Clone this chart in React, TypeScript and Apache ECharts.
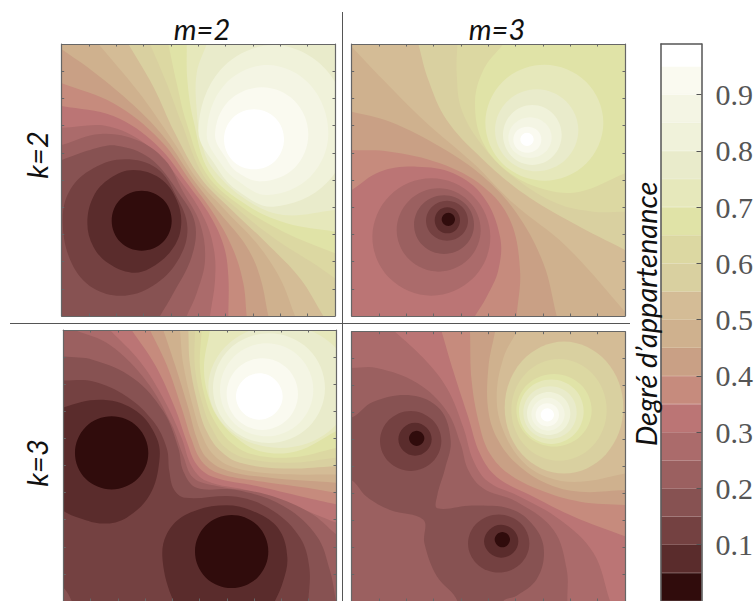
import React, { useEffect, useRef } from "react";
import * as echarts from "echarts";

// Colour of each 0.05 wide membership band, from 0-0.05 up to 0.95-1
const bandColors = [
  "#300c0c", "#5a2c2c", "#744141", "#875252", "#9b6060", "#ab6b6b", "#bb7575", "#c68b7d", "#c9a085", "#cfb18e",
  "#d4bc96", "#d9d0a0", "#dcd8a2", "#e0e3a7", "#e6e8bb", "#e9ebcb", "#f0f2da", "#f4f5e4", "#fafaf0", "#ffffff",
];
const bandWidths = [0.05, 0.05, 0.05, 0.05, 0.05, 0.05, 0.05, 0.05, 0.05, 0.05, 0.05, 0.05, 0.05, 0.05, 0.05, 0.05, 0.05, 0.05, 0.05, 0.04];
const barTicks = [0.1, 0.2, 0.3, 0.4, 0.5, 0.6, 0.7, 0.8, 0.9];
const baseBand = 9;

// Contours: [band, closing corners ([] = closed curve), x,y,x,y...]
type Contour = [number, string[], number[]];
const contoursA: Contour[] = [
  [8, ["BL"], [35,58,130,125,250,225,345,325,435,456,510,550,590,650,630,740,655,858]],
  [7, ["BL"], [35,160,190,220,330,330,427,462,497,560,550,660,580,760,590,858]],
  [6, ["BL"], [35,228,190,258,320,345,418,469,482,560,522,650,535,740,535,858]],
  [5, ["BL"], [35,293,180,290,310,360,408,476,465,570,492,660,495,750,480,858]],
  [4, ["BL"], [35,345,150,312,260,330,345,390,398,483,450,580,465,690,440,790,410,858]],
  [3, ["BL"], [35,390,120,360,200,347,300,385,388,491,435,580,425,680,370,790,330,858]],
  [2, [], [38,575,60,480,130,415,225,388,320,415,380,500,412,590,390,680,320,760,225,797,130,775,65,700]],
  [1, [], [112,580,130,500,180,445,250,420,330,445,380,510,393,590,365,660,300,715,245,728,175,700,130,650]],
  [0, [], [365,572,339,636,275,662,211,636,185,572,211,508,275,482,339,508]],
  [10, ["BR","TR"], [145,42,265,185,340,290,380,350,443,450,530,545,620,640,690,745,735,858]],
  [11, ["BR","TR"], [235,42,310,170,375,310,452,444,545,540,650,640,750,745,820,858]],
  [12, ["TR"], [300,42,350,160,395,280,461,438,560,535,680,630,790,700,855,745]],
  [13, ["TR"], [355,42,380,160,410,280,469,431,575,530,700,605,855,670]],
  [14, ["TR"], [410,42,412,150,430,270,478,425,590,525,710,580,855,605]],
  [15, ["TR"], [470,42,440,130,440,240,455,340,489,417,590,510,700,555,855,540]],
  [16, [], [895,300,829,460,670,530,560,480,499,410,445,300,511,120,670,45,829,120]],
  [17, [], [835,310,781,440,652,495,560,450,512,400,470,310,523,165,652,105,781,165]],
  [18, [], [775,313,734,413,635,454,560,425,528,385,495,313,536,213,635,172,734,213]],
  [19, [], [702,328,676,392,612,418,548,392,522,328,548,264,612,238,676,264]],
];
const contoursB: Contour[] = [
  [8, ["BL"], [35,245,150,275,300,350,430,440,530,550,610,700,650,858]],
  [7, ["BL"], [35,360,150,365,300,400,430,470,510,570,540,720,530,858]],
  [6, ["BL"], [35,480,120,425,230,410,340,430,430,500,480,620,475,720,440,800,405,858]],
  [5, [], [451,621,399,745,274,797,149,745,97,621,149,497,274,445,399,497]],
  [4, [], [422,600,385,688,296,725,207,688,170,600,207,512,296,475,385,512]],
  [3, [], [402,584,376,646,312,672,248,646,222,584,248,522,312,496,376,522]],
  [2, [], [384,572,366,614,321,632,276,614,258,572,276,530,321,512,366,530]],
  [1, [], [360,571,349,599,322,610,295,599,284,571,295,543,322,532,349,543]],
  [0, [], [345,568,339,582,325,588,311,582,305,568,311,554,325,548,339,554]],
  [10, ["TR"], [35,50,130,150,250,270,400,400,520,520,680,650,855,845]],
  [11, ["TR"], [235,42,265,150,320,270,420,380,550,490,700,580,855,660]],
  [12, ["TR"], [352,42,350,130,365,240,430,350,520,440,650,520,760,545,855,545]],
  [13, ["TR"], [490,42,430,120,405,220,430,340,510,430,620,480,720,485,855,430]],
  [14, [], [790,278,738,401,613,452,488,401,436,278,488,155,613,104,738,155]],
  [15, [], [715,301,678,388,590,424,502,388,465,301,502,214,590,178,678,214]],
  [16, [], [665,315,639,379,577,405,515,379,489,315,515,251,577,225,639,251]],
  [17, [], [635,323,616,366,570,384,524,366,505,323,524,280,570,262,616,280]],
  [18, [], [604,329,592,357,562,368,532,357,520,329,532,301,562,290,592,301]],
  [19, [], [581,328,575,342,561,348,547,342,541,328,547,314,561,308,575,314]],
];
const contoursC: Contour[] = [
  [8, ["BR","BL","TL"], [340,45,375,150,415,280,440,370,470,430,530,468,660,490,858,505]],
  [7, ["BR","BL","TL"], [300,45,350,150,395,280,425,375,455,440,510,478,640,502,770,520,858,535]],
  [6, ["BR","BL","TL"], [245,45,315,150,375,280,410,380,440,450,490,488,620,515,760,548,858,570]],
  [5, ["BR","BL","TL"], [180,45,270,140,345,260,395,370,425,455,470,500,600,530,740,578,858,625]],
  [4, ["BR","BL","TL"], [75,45,180,90,290,200,365,330,400,425,430,490,500,515,650,540,780,595,858,660]],
  [3, ["BL"], [40,125,130,135,250,190,340,290,385,400,400,470,440,520,560,527,700,575,800,665,840,770,858,861]],
  [2, [], [-40,197,40,197,130,200,230,245,310,320,350,400,358,470,372,525,405,550,560,547,670,590,750,670,778,760,775,861,770,930,120,930,40,820,-40,770]],
  [1, [], [40,278,160,255,260,290,320,370,328,440,300,540,230,610,160,628,90,612,40,590,-40,530,-50,400,-40,320]],
  [1, [], [338,740,350,660,410,600,530,573,630,600,690,650,712,730,700,800,670,870,630,930,420,930,370,860]],
  [0, [], [295,415,263,493,185,525,107,493,75,415,107,337,185,305,263,337]],
  [0, [], [655,712,623,790,545,822,467,790,435,712,467,634,545,602,623,634]],
  [10, ["TR"], [390,45,400,150,430,280,455,360,490,420,550,458,680,478,858,480]],
  [11, ["TR"], [415,45,420,150,445,275,470,350,510,408,570,445,700,462,858,455]],
  [12, ["TR"], [435,45,435,160,458,270,485,340,525,398,590,432,720,445,858,430]],
  [13, ["TR"], [455,45,450,160,470,265,500,330,545,385,610,420,730,428,858,400]],
  [14, ["TR"], [480,45,462,160,480,260,515,325,560,370,630,410,740,410,858,350]],
  [15, [], [905,215,842,346,690,400,538,346,475,215,538,84,690,30,842,84]],
  [16, [], [825,220,776,337,657,385,538,337,489,220,538,103,657,55,776,103]],
  [17, [], [790,225,749,324,650,365,551,324,510,225,551,126,650,85,749,126]],
  [18, [], [744,238,713,314,637,346,561,314,530,238,561,162,637,130,713,162]],
  [19, [], [698,245,677,294,628,315,579,294,558,245,579,196,628,175,677,196]],
];
const contoursD: Contour[] = [
  [8, ["BR","BL","TL"], [465,50,445,160,445,290,475,380,530,450,620,510,720,535,855,530]],
  [7, ["BR","BL","TL"], [390,50,395,200,420,340,450,420,505,480,600,530,720,565,855,575]],
  [6, ["BR","BL","TL"], [305,50,340,170,385,310,420,420,470,490,570,545,700,610,855,670]],
  [5, ["BL","TL"], [165,50,250,130,320,220,370,340,400,440,445,505,540,550,660,620,760,720,810,866]],
  [4, ["BL"], [35,160,110,160,230,205,320,290,362,390,385,470,430,525,530,565,640,650,680,770,682,866]],
  [3, [], [35,310,100,262,215,243,300,285,332,380,315,465,292,545,292,585,400,577,520,590,590,650,612,720,590,800,530,850,490,866,470,930,340,930,352,866,290,790,253,690,250,620,150,590,80,550,35,500,-30,480,-30,320]],
  [2, [], [304,381,277,445,212,472,147,445,120,381,147,317,212,290,277,317]],
  [2, [], [568,692,541,754,476,780,411,754,384,692,411,630,476,604,541,630]],
  [1, [], [275,376,260,411,225,426,190,411,175,376,190,341,225,326,260,341]],
  [1, [], [535,685,520,720,483,735,448,720,432,685,448,650,483,635,520,650]],
  [0, [], [253,373,246,389,230,396,214,389,207,373,214,357,230,350,246,357]],
  [0, [], [510,680,503,696,487,703,471,696,464,680,471,664,487,657,503,664]],
  [10, ["TR"], [530,50,490,130,470,250,490,350,545,440,620,490,720,505,855,480]],
  [11, [], [850,280,798,421,672,480,546,421,494,280,546,139,672,80,798,139]],
  [12, [], [800,287,758,396,657,441,556,396,514,287,556,178,657,133,758,178]],
  [13, [], [755,288,722,366,642,398,562,366,529,288,562,210,642,178,722,210]],
  [14, [], [731,292,703,361,634,390,565,361,537,292,565,223,634,195,703,223]],
  [15, [], [710,295,687,352,630,375,573,352,550,295,573,238,630,215,687,238]],
  [16, [], [691,298,672,344,626,363,580,344,561,298,580,252,626,233,672,252]],
  [17, [], [674,300,659,335,624,350,589,335,574,300,589,265,624,250,659,265]],
  [18, [], [657,302,647,327,622,337,597,327,587,302,597,277,622,267,647,277]],
  [19, [], [642,302,636,316,622,322,608,316,602,302,608,288,622,282,636,288]],
];

const panels = [
  { contours: contoursA, rect: [61.7, 44, 273.3, 272], x: [35, 855], y: [42, 858] },
  { contours: contoursB, rect: [351.7, 44, 273.3, 272], x: [35, 855], y: [42, 858] },
  { contours: contoursC, rect: [63.3, 330, 272.7, 272], x: [40, 858], y: [45, 861] },
  { contours: contoursD, rect: [351.7, 331.7, 273.3, 272], x: [35, 855], y: [50, 866] },
];

const frameColor = "#666666";
const farCorners: Record<string, number[]> = { TL: [-400, -400], TR: [1300, -400], BL: [-400, 1300], BR: [1300, 1300] };

function contourPoints(c: Contour): number[][] {
  const pts: number[][] = [];
  for (let i = 0; i < c[2].length; i += 2) pts.push([c[2][i], c[2][i + 1]]);
  if (c[1].length === 0) return pts;
  const beyond = (a: number[], b: number[]) => {
    const d = Math.hypot(a[0] - b[0], a[1] - b[1]) || 1;
    return [a[0] + ((a[0] - b[0]) / d) * 70, a[1] + ((a[1] - b[1]) / d) * 70];
  };
  const n = pts.length;
  return [beyond(pts[0], pts[1]), ...pts, beyond(pts[n - 1], pts[n - 2]), ...c[1].map((k) => farCorners[k])];
}

function tenths(range: number[]) {
  return [1, 2, 3, 4, 5, 6, 7, 8, 9].map((k) => range[0] + ((range[1] - range[0]) * k) / 10);
}

function frameAxis(gridIndex: number, position: string, range: number[], inverse: boolean) {
  return {
    type: "value", gridIndex, position, min: range[0], max: range[1], inverse, z: 6,
    axisLabel: { show: false }, splitLine: { show: false },
    axisLine: { show: true, onZero: false, lineStyle: { color: frameColor, width: 1.2 } },
    axisTick: { show: true, inside: true, length: 2.5, customValues: tenths(range), lineStyle: { color: frameColor, width: 1 } },
  };
}

const sans = "Lato, 'Open Sans', sans-serif";
function label(text: string, x: number, y: number, rotation = 0) {
  return {
    type: "text", x, y, rotation, z: 20,
    style: { text, fill: "#111", font: `italic 29px ${sans}`, align: "center", verticalAlign: "middle" },
  };
}

export default function App() {
  const ref = useRef<HTMLDivElement>(null);
  useEffect(() => {
    const chart = echarts.init(ref.current!, undefined, { renderer: "svg" });
    const grid: any[] = panels.map((p) => ({
      left: p.rect[0], top: p.rect[1], width: p.rect[2], height: p.rect[3], containLabel: false,
      show: true, backgroundColor: bandColors[baseBand], borderWidth: 0,
    }));
    const xAxis: any[] = [];
    const yAxis: any[] = [];
    panels.forEach((p, i) => {
      xAxis.push(frameAxis(i, "bottom", p.x, false), frameAxis(i, "top", p.x, false));
      yAxis.push(frameAxis(i, "left", p.y, true), frameAxis(i, "right", p.y, true));
    });
    const series: any[] = panels.map((p, i) => ({
      type: "custom", coordinateSystem: "cartesian2d", xAxisIndex: i * 2, yAxisIndex: i * 2, clip: true, silent: true,
      data: p.contours.map((c) => [p.x[0], p.y[0], c[0]]),
      renderItem: (params: any, api: any) => {
        const c = p.contours[params.dataIndex];
        return {
          type: "polygon",
          shape: { points: contourPoints(c).map((q) => api.coord(q)), smooth: 0.37 },
          style: { fill: bandColors[c[0]] },
        };
      },
    }));

    // Colour bar
    const g = panels.length;
    grid.push({ left: 661, top: 44, width: 42, height: 559.6, containLabel: false });
    const barY = (position: string, labelled: boolean) => ({
      type: "value", gridIndex: g, position, min: 0, max: 0.99, z: 6, splitLine: { show: false },
      axisLine: { show: true, onZero: false, lineStyle: { color: "#555", width: 1.5 } },
      axisTick: { show: labelled, inside: true, length: 5, customValues: barTicks, lineStyle: { color: "#555", width: 1 } },
      axisLabel: {
        show: labelled, customValues: barTicks, margin: 14, color: "#555",
        fontFamily: "'Liberation Serif', serif", fontSize: 30,
        formatter: (v: number) => v.toFixed(1),
      },
    });
    yAxis.push(barY("right", true), barY("left", false));
    const barX = (position: string) => ({
      type: "category", gridIndex: g, position, data: [""], z: 6,
      axisTick: { show: false }, axisLabel: { show: false },
      axisLine: { show: position === "top", onZero: false, lineStyle: { color: "#555", width: 1.5 } },
    });
    xAxis.push(barX("bottom"), barX("top"));
    bandWidths.forEach((w, i) => {
      series.push({
        type: "bar", xAxisIndex: g * 2, yAxisIndex: g * 2, stack: "colorbar", barWidth: "100%", silent: true,
        data: [w], itemStyle: { color: bandColors[i], borderColor: bandColors[i], borderWidth: 0.6 },
      });
    });

    chart.setOption({
      animation: false,
      backgroundColor: "#ffffff",
      grid, xAxis, yAxis, series,
      graphic: [
        { type: "line", z: 20, shape: { x1: 342.5, y1: 12, x2: 342.5, y2: 601 }, style: { stroke: "#555", lineWidth: 1 } },
        { type: "line", z: 20, shape: { x1: 10, y1: 323.5, x2: 630, y2: 323.5 }, style: { stroke: "#555", lineWidth: 1 } },
        label("m=2", 202, 28),
        label("m=3", 497, 28),
        label("k=2", 36, 155, Math.PI / 2),
        label("k=3", 36, 463, Math.PI / 2),
        label("Degré d’appartenance", 645, 314, Math.PI / 2),
      ],
    });
    return () => chart.dispose();
  }, []);
  return (
    <div
      ref={ref}
      style={{ position: "absolute", left: 0, top: 0, width: 756, height: 601, overflow: "hidden", background: "#fff" }}
    />
  );
}
